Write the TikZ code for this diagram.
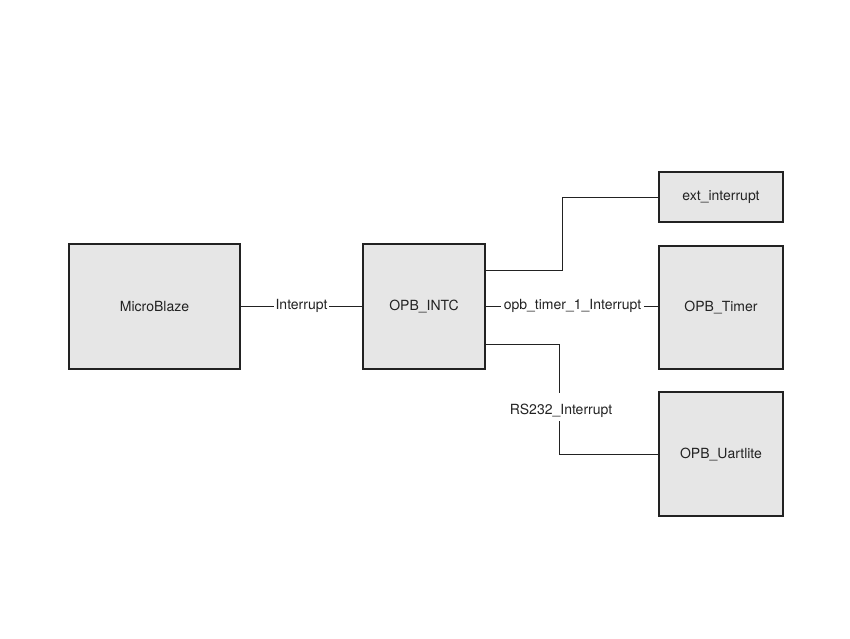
\documentclass[tikz,border=0pt]{standalone}
\usepackage{fontspec}
\setmainfont{TeX Gyre Heros}
\definecolor{boxfill}{HTML}{E6E6E6}
\definecolor{ink}{HTML}{222222}
\begin{document}
\begin{tikzpicture}[x=1pt,y=-1pt,
  blk/.style={draw=ink,line width=1.4pt,fill=boxfill,inner sep=0pt,font=\fontsize{14}{16}\selectfont,text=ink},
  lbl/.style={inner sep=1.5pt,font=\fontsize{14}{16}\selectfont,text=ink},
  wire/.style={draw=ink,line width=0.8pt}]
\useasboundingbox (0,0) rectangle (850,638);
\node[blk,minimum width=171pt,minimum height=125pt] (mb) at (154.5,306.5) {MicroBlaze};
\node[blk,minimum width=122pt,minimum height=125pt] (intc) at (424,306.5) {OPB\_INTC};
\node[blk,minimum width=124pt,minimum height=50pt] (ext) at (721,197) {ext\_interrupt};
\node[blk,minimum width=124pt,minimum height=123pt] (tmr) at (721,307.5) {OPB\_Timer};
\node[blk,minimum width=124pt,minimum height=124pt] (uart) at (721,454) {OPB\_Uartlite};
\node[lbl] (li) at (301.5,306) {Interrupt};
\node[lbl,inner sep=2.5pt] (lt) at (572.5,306) {opb\_timer\_1\_Interrupt};
\node[lbl] (lr) at (561,411) {RS232\_Interrupt};
\coordinate (a1) at (562,270);
\coordinate (b1) at (559,344);
\coordinate (b2) at (559,393);
\coordinate (b3) at (559,421);
\draw[wire] (mb.east |- li) -- (li.west);
\draw[wire] (li.east) -- (intc.west |- li);
\draw[wire] (intc.east |- lt) -- (lt.west);
\draw[wire] (lt.east) -- (tmr.west |- lt);
\draw[wire] (intc.east |- a1) -- (a1) |- (ext.west);
\draw[wire] (intc.east |- b1) -- (b1) -- (b2);
\draw[wire] (b3) |- (uart.west);
\end{tikzpicture}
\end{document}
